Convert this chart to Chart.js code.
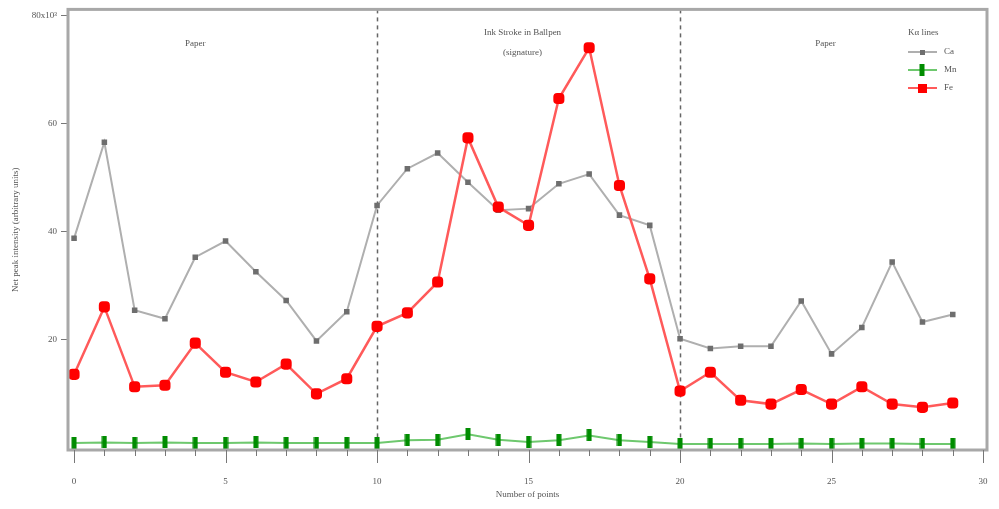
<!DOCTYPE html>
<html>
<head>
<meta charset="utf-8">
<script src="https://cdn.jsdelivr.net/npm/chart.js@4.4.1/dist/chart.umd.min.js"></script>
<style>
  html, body { margin: 0; padding: 0; background: #fff; }
  #wrap { width: 999px; height: 509px; }
</style>
</head>
<body>
<div id="wrap"><canvas id="myChart" width="999" height="509"></canvas></div>
<script>
// data (values in units of 10^3)
var points = [0,1,2,3,4,5,6,7,8,9,10,11,12,13,14,15,16,17,18,19,20,21,22,23,24,25,26,27,28,29];
var ca = [38.7,56.5,25.4,23.8,35.2,38.2,32.5,27.2,19.7,25.1,44.8,51.6,54.5,49.1,43.9,44.2,48.8,50.6,43.0,41.1,20.1,18.3,18.7,18.7,27.1,17.3,22.2,34.3,23.2,24.6];
var mn = [0.8,0.9,0.8,0.9,0.8,0.8,0.9,0.8,0.8,0.8,0.8,1.3,1.4,2.4,1.4,1.0,1.3,2.2,1.3,1.0,0.6,0.6,0.6,0.6,0.7,0.6,0.7,0.7,0.6,0.6];
var fe = [13.5,26.0,11.2,11.5,19.3,13.9,12.1,15.4,9.9,12.7,22.4,24.9,30.6,57.3,44.5,41.1,64.6,74.0,48.5,31.2,10.4,13.9,8.7,8.0,10.7,8.0,11.2,8.0,7.4,8.2];
var seriesNames = ["Ca", "Mn", "Fe"];
var yTicks = [20, 40, 60, 80];
var boundaries = [10, 20];
var legendTitle = "Kα lines";
var regionLabels = [
  { x: 4, lines: ["Paper"] },
  { x: 14.8, lines: ["Ink Stroke in Ballpen", "(signature)"] },
  { x: 24.8, lines: ["Paper"] }
];

var serif = "'Liberation Serif', 'DejaVu Serif', serif";
var textColor = "#555";

function xy(arr) {
  return points.map(function (p, i) { return { x: p, y: arr[i] }; });
}

// tall narrow marker for Mn
var mnMarker = document.createElement("canvas");
mnMarker.width = 6; mnMarker.height = 12;
var mctx = mnMarker.getContext("2d");
mctx.fillStyle = "rgb(0,140,0)";
mctx.fillRect(0.5, 0, 5, 12);

var extras = {
  id: "extras",
  beforeDatasetsDraw: function (chart) {
    var ctx = chart.ctx, a = chart.chartArea;
    var xs = chart.scales.x;
    ctx.save();
    // dashed region boundaries
    ctx.strokeStyle = "#666";
    ctx.lineWidth = 1.5;
    ctx.setLineDash([4, 4]);
    boundaries.forEach(function (b) {
      var px = Math.round(xs.getPixelForValue(b)) + 0.5;
      ctx.beginPath();
      ctx.moveTo(px, a.top);
      ctx.lineTo(px, a.bottom);
      ctx.stroke();
    });
    ctx.setLineDash([]);
    // region labels
    ctx.fillStyle = textColor;
    ctx.font = "9px " + serif;
    ctx.textAlign = "center";
    ctx.textBaseline = "middle";
    regionLabels.forEach(function (r) {
      var px = xs.getPixelForValue(r.x);
      r.lines.forEach(function (t, k) {
        ctx.fillText(t, px, 33 + k * 20 + (r.lines.length === 1 ? 11 : 0));
      });
    });
    ctx.restore();
  },
  afterDraw: function (chart) {
    var ctx = chart.ctx, a = chart.chartArea;
    var xs = chart.scales.x;
    ctx.save();
    // frame
    ctx.strokeStyle = "#a8a8a8";
    ctx.lineWidth = 3;
    ctx.strokeRect(a.left, a.top, a.right - a.left, a.bottom - a.top);
    // x ticks: minor at every point, major every 5
    ctx.strokeStyle = "#777";
    ctx.lineWidth = 1;
    xs.ticks.forEach(function (t) {
      var px = Math.round(xs.getPixelForValue(t.value)) + 0.5;
      ctx.beginPath();
      ctx.moveTo(px, a.bottom);
      ctx.lineTo(px, a.bottom + (t.value % 5 === 0 ? 13 : 6));
      ctx.stroke();
    });
    // legend in the order Ca, Mn, Fe
    ctx.font = "9px " + serif;
    ctx.fillStyle = textColor;
    ctx.textAlign = "left";
    ctx.textBaseline = "middle";
    ctx.fillText(legendTitle, 908, 33);
    seriesNames.forEach(function (name, i) {
      var ds = chart.data.datasets.filter(function (d) { return d.label === name; })[0];
      var y = 52 + i * 18;
      ctx.strokeStyle = ds.borderColor;
      ctx.lineWidth = 2;
      ctx.beginPath();
      ctx.moveTo(908, y);
      ctx.lineTo(937, y);
      ctx.stroke();
      if (ds.pointStyle instanceof HTMLCanvasElement) {
        ctx.drawImage(ds.pointStyle, 922 - 3, y - 6);
      } else if (ds.pointStyle === "rectRounded") {
        ctx.fillStyle = ds.pointBackgroundColor;
        ctx.fillRect(918, y - 4, 9, 9);
      } else {
        ctx.fillStyle = ds.pointBackgroundColor;
        ctx.fillRect(920, y - 2, 5, 5);
      }
      ctx.fillStyle = textColor;
      ctx.fillText(ds.label, 944, y);
    });
    ctx.restore();
  }
};

var ctx = document.getElementById("myChart").getContext("2d");
var chart = new Chart(ctx, {
  type: "line",
  data: {
    datasets: [
      {
        label: seriesNames[1],
        data: xy(mn),
        borderColor: "rgb(110,200,110)",
        borderWidth: 2,
        pointStyle: mnMarker,
        pointBackgroundColor: "rgb(0,140,0)",
        order: 0
      },
      {
        label: seriesNames[2],
        data: xy(fe),
        borderColor: "rgb(255,90,90)",
        borderWidth: 2.5,
        pointStyle: "rectRounded",
        pointRadius: 5,
        pointBackgroundColor: "rgb(255,0,0)",
        pointBorderColor: "rgb(255,0,0)",
        order: 1
      },
      {
        label: seriesNames[0],
        data: xy(ca),
        borderColor: "rgb(175,175,175)",
        borderWidth: 2,
        pointStyle: "rect",
        pointRadius: 2.5,
        pointBackgroundColor: "rgb(110,110,110)",
        pointBorderColor: "rgb(110,110,110)",
        order: 2
      }
    ]
  },
  options: {
    animation: false,
    responsive: false,
    layout: { padding: { top: 8, right: 12, left: 0, bottom: 0 } },
    plugins: {
      legend: { display: false },
      tooltip: { enabled: false }
    },
    elements: { line: { tension: 0 } },
    scales: {
      x: {
        type: "linear",
        min: -0.2,
        max: 30.13,
        afterFit: function (s) { s.height = 59; },
        afterBuildTicks: function (s) {
          var t = [];
          for (var v = 0; v <= 30; v++) t.push({ value: v });
          s.ticks = t;
        },
        ticks: {
          autoSkip: false,
          maxRotation: 0,
          padding: 3,
          color: textColor,
          font: { family: serif, size: 9 },
          callback: function (v) { return v % 5 === 0 ? String(v) : ""; }
        },
        grid: { drawOnChartArea: false, tickLength: 23, tickColor: "rgba(0,0,0,0)" },
        border: { display: false },
        title: {
          display: true,
          text: "Number of points",
          color: textColor,
          font: { family: serif, size: 9 },
          padding: { top: 0, bottom: 9 }
        }
      },
      y: {
        min: -0.5,
        max: 81.1,
        afterFit: function (s) { s.width = 68; },
        afterBuildTicks: function (s) {
          s.ticks = yTicks.map(function (v) { return { value: v }; });
        },
        ticks: {
          padding: 4,
          color: textColor,
          font: { family: serif, size: 9 },
          callback: function (v) { return v === 80 ? "80x10³" : String(v); }
        },
        grid: { drawOnChartArea: false, tickLength: 7, color: "#777" },
        border: { display: false },
        title: {
          display: true,
          text: "Net peak intensity (arbitrary units)",
          color: textColor,
          font: { family: serif, size: 9 },
          padding: { top: 10, bottom: 0 }
        }
      }
    }
  },
  plugins: [extras]
});
</script>
</body>
</html>
